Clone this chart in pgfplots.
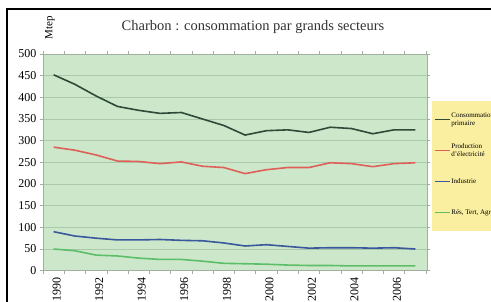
\documentclass[border=0pt]{standalone}
\usepackage{pgfplots}
\pgfplotsset{compat=1.18}
\usepackage{fontspec}
\setmainfont{Liberation Serif}
\definecolor{bg}{RGB}{204,231,202}
\definecolor{gridc}{RGB}{170,200,170}
\definecolor{axc}{RGB}{160,175,160}
\definecolor{cprim}{RGB}{46,74,56}
\definecolor{cprod}{RGB}{222,96,88}
\definecolor{cind}{RGB}{58,88,156}
\definecolor{cres}{RGB}{92,190,104}
\definecolor{legy}{RGB}{250,238,160}
\begin{document}
\begin{tikzpicture}
\clip (0pt,0pt) rectangle (491pt,302pt);
\fill[white] (0pt,0pt) rectangle (491pt,302pt);
\begin{axis}[at={(43pt,31.3pt)}, anchor=south west, scale only axis,
  width=384pt, height=216.7pt,
  xmin=1989.5, xmax=2007.55, ymin=0, ymax=500,
  ytick={0,50,...,500},
  xtick={1990,1992,...,2006}, minor xtick={1989.5,1990.5,...,2007.5},
  /pgf/number format/assume math mode=true,
  x tick label style={/pgf/number format/1000 sep={}, rotate=90, anchor=east, yshift=-3pt, font=\fontsize{12}{12}\selectfont},
  y tick label style={font=\fontsize{12}{12}\selectfont},
  axis background/.style={fill=bg},
  ymajorgrids, grid style={gridc, line width=0.7pt},
  axis line style={axc, line width=0.8pt},
  tick style={axc, line width=0.6pt},
  tick align=outside, major tick length=3pt, minor tick length=3pt,
  x tick style={draw=none}, minor x tick style={draw=axc},
  clip=false,
  legend style={at={(rel axis cs:1.013,0.783)}, anchor=north west, fill=legy, draw=none,
    font=\fontsize{7}{8.5}\selectfont, inner xsep=2pt, inner ysep=3pt, row sep=0pt,
    nodes={minimum height=31pt, inner sep=1pt}},
  legend cell align=left,
  legend image code/.code={\draw[#1, line width=1.2pt] (0pt,0pt) -- (15pt,0pt);},
  every axis plot/.append style={line width=1.6pt, no marks},
]
\addplot[cprim] coordinates {(1990,452) (1991,430) (1992,403) (1993,379) (1994,370) (1995,363) (1996,365) (1997,350) (1998,335) (1999,313) (2000,323) (2001,325) (2002,319) (2003,331) (2004,328) (2005,316) (2006,325) (2007,325)};
\addlegendentry{\shortstack[l]{Consommation\\primaire}}
\addplot[cprod] coordinates {(1990,285) (1991,278) (1992,267) (1993,253) (1994,252) (1995,247) (1996,251) (1997,241) (1998,238) (1999,224) (2000,233) (2001,238) (2002,238) (2003,249) (2004,247) (2005,240) (2006,247) (2007,249)};
\addlegendentry{\shortstack[l]{Production\\d'électricité}}
\addplot[cind] coordinates {(1990,90) (1991,80) (1992,75) (1993,71) (1994,71) (1995,72) (1996,70) (1997,69) (1998,64) (1999,57) (2000,60) (2001,56) (2002,52) (2003,53) (2004,53) (2005,52) (2006,53) (2007,50)};
\addlegendentry{Industrie}
\addplot[cres] coordinates {(1990,50) (1991,46) (1992,36) (1993,34) (1994,29) (1995,26) (1996,26) (1997,22) (1998,17) (1999,16) (2000,15) (2001,13) (2002,12) (2003,12) (2004,11) (2005,11) (2006,11) (2007,11)};
\addlegendentry{Rés, Tert, Agr.}
\end{axis}
\node[font=\fontsize{14.5}{15}\selectfont, text=black!80] at (253pt,275pt) {Charbon : consommation par grands secteurs};
\node[rotate=90, font=\fontsize{11}{11}\selectfont] at (50pt,274pt) {Mtep};
\draw[line width=2pt] (7pt,-5pt) |- (500pt,293pt);
\end{tikzpicture}
\end{document}
